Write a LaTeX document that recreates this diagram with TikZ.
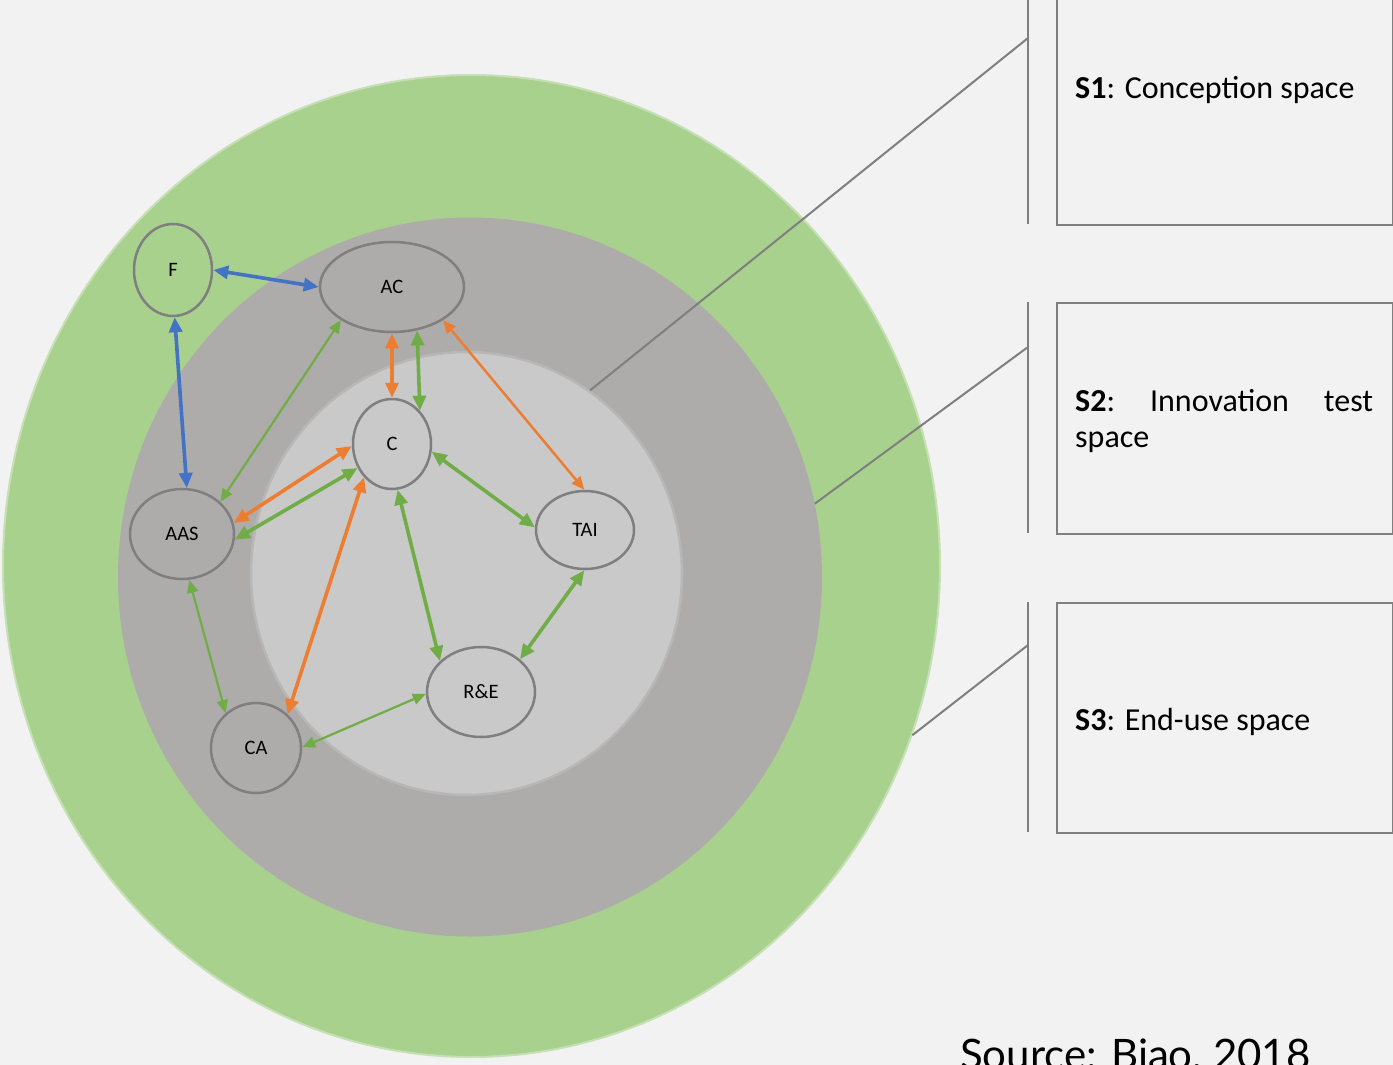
\documentclass[tikz,border=0pt]{standalone}
\usepackage{fontspec}
\setmainfont{Carlito}
\newfontfamily\srcfont{Lato}
\usetikzlibrary{arrows.meta,shapes.geometric}
\definecolor{bgc}{HTML}{F2F2F2}
\definecolor{greenz}{HTML}{A9D18E}
\definecolor{greenedge}{HTML}{C5E0B4}
\definecolor{grayz}{HTML}{AEABAB}
\definecolor{lightz}{HTML}{C9C9C9}
\definecolor{lightedge}{HTML}{B7B7B7}
\definecolor{nodeedge}{HTML}{7F7F7F}
\definecolor{bluea}{HTML}{4472C4}
\definecolor{greena}{HTML}{70AD47}
\definecolor{orangea}{HTML}{ED7D31}
\begin{document}
\begin{tikzpicture}[x=1pt,y=-1pt,
  zone/.style={ellipse, inner sep=0pt},
  agent/.style={ellipse, draw=nodeedge, line width=2.5pt, inner sep=0pt, text=black, font=\fontsize{20.5}{24}\selectfont},
  thickar/.style={line width=3.6pt, >={Triangle[length=15pt,width=13pt]}, <->},
  thinar/.style={line width=2.2pt, >={Triangle[length=13pt,width=11pt]}, <->},
  leader/.style={draw=nodeedge, line width=2pt},
  spacebox/.style={rectangle, draw=nodeedge, line width=2pt, inner sep=0pt, anchor=north west},
  boxtext/.style={anchor=base west, inner sep=0pt, font=\fontsize{32}{38}\selectfont, text=black}
]
\useasboundingbox (0,0) rectangle (1393,1065);
\clip (0,0) rectangle (1393,1065);
\fill[bgc] (0,0) rectangle (1393,1065);

% zones
\node[zone, fill=greenz, draw=greenedge, line width=2pt, minimum width=937pt, minimum height=982pt] (Z3) at (471.5,566) {};
\node[zone, fill=grayz, minimum width=704pt, minimum height=719pt] (Z2) at (470,577) {};
\node[zone, fill=lightz, draw=lightedge, line width=2.5pt, minimum width=431pt, minimum height=443pt] (Z1) at (466.5,573.5) {};

% actors
\node[agent, fill=greenz, minimum width=78pt, minimum height=92pt] (F) at (173,270) {F};
\node[agent, fill=grayz, minimum width=144pt, minimum height=90pt] (AC) at (392,287) {AC};
\node[agent, fill=lightz, minimum width=78pt, minimum height=90pt] (C) at (392,444) {C};
\node[agent, fill=grayz, minimum width=104pt, minimum height=90pt] (AAS) at (182,534) {AAS};
\node[agent, fill=lightz, minimum width=98pt, minimum height=78pt] (TAI) at (585,530) {TAI};
\node[agent, fill=lightz, minimum width=108pt, minimum height=90pt] (RE) at (481,692) {R\&E};
\node[agent, fill=grayz, minimum width=90pt, minimum height=90pt] (CA) at (256,748) {CA};

% connectors
\draw[thickar, bluea] (F.0) -- (AC.180);
\draw[thickar, bluea] (F.-88) -- (AAS.84);
\draw[thinar, greena] (AC.213) -- (AAS.40);
\draw[thickar, orangea] (AC.-90) -- (C.90);
\draw[thickar, greena] (AC.-60) -- (C.50);
\draw[thinar, orangea, line width=2.5pt] (AC.-33) -- (TAI.91);
\draw[thickar, orangea] (C.183) -- (AAS.12);
\draw[thickar, greena] (C.215) -- (AAS.-6);
\draw[thickar, orangea] (C.230) -- (CA.47);
\draw[thickar, greena] (C.-83) -- (RE.143);
\draw[thickar, greena] (C.-11) -- (TAI.177);
\draw[thickar, greena] (TAI.-91) -- (RE.40);
\draw[thinar, greena] (AAS.-81) -- (CA.131);
\draw[thinar, greena] (CA.1) -- (RE.182);

% legend boxes
\coordinate (V1a) at (1028,-5);  \coordinate (V1b) at (1028,224);
\coordinate (V2a) at (1028,302); \coordinate (V2b) at (1028,533);
\coordinate (V3a) at (1028,602); \coordinate (V3b) at (1028,832);
\coordinate (L1) at (1028,38);
\coordinate (L2) at (1028,347);
\coordinate (L3) at (1028,645);
\draw[leader] (V1a) -- (V1b);
\draw[leader] (V2a) -- (V2b);
\draw[leader] (V3a) -- (V3b);
\draw[leader] (Z1.56) -- (L1);
\draw[leader] (Z2.12.5) -- (L2);
\draw[leader] (Z3.-21.4) -- (L3);

\node[spacebox, minimum width=336pt, minimum height=234pt] (B1) at (1056,-10) {};
\node[spacebox, minimum width=336pt, minimum height=231pt] (B2) at (1056,302) {};
\node[spacebox, minimum width=336pt, minimum height=230pt] (B3) at (1056,602) {};

\node[boxtext] (T1) at (1075,99) {\textbf{S1}: Conception space};
\node[boxtext] (T2a) at (1075,411) {\hbox to 298pt{\textbf{S2}:\hfill Innovation\hfill test}};
\node[boxtext] (T2b) at (1075,447) {space};
\node[boxtext] (T3) at (1075,730) {\textbf{S3}: End-use space};

\node[anchor=base west, inner sep=0pt, font=\srcfont\fontsize{42}{50}\selectfont, text=black] (SRC) at (960,1069) {Source: Biao, 2018};
\end{tikzpicture}
\end{document}
